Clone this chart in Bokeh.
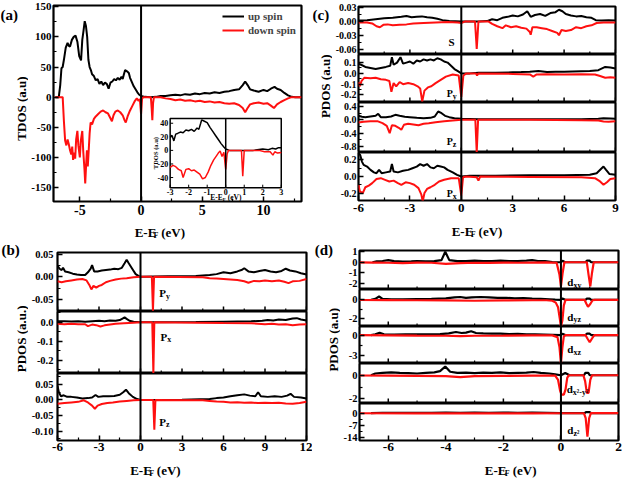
import math
from bokeh.plotting import figure
from bokeh.layouts import column, row
from bokeh.models import (Range1d, FixedTicker, PrintfTickFormatter, Span, Label,
                          Legend, LegendItem)
from bokeh.embed import file_html
from bokeh.resources import INLINE
from bokeh.core.properties import value

FONT = "Liberation Serif"
RED = "#ff1010"

# ================= DATA =================
# (a) total DOS
A_UP = [(-7.0, 0), (-6.72, 0), (-6.6, 20), (-6.5, 48), (-6.4, 50), (-6.3, 62), (-6.15, 82), (-6.0, 90),
        (-5.9, 85), (-5.8, 84), (-5.65, 95), (-5.5, 100), (-5.35, 102), (-5.2, 92), (-5.05, 68), (-4.9, 61),
        (-4.8, 95), (-4.7, 110), (-4.6, 126), (-4.5, 118), (-4.4, 100), (-4.3, 62), (-4.2, 50), (-4.1, 45),
        (-4.0, 38), (-3.85, 35), (-3.7, 28), (-3.55, 30), (-3.4, 22), (-3.25, 26), (-3.1, 20), (-2.95, 24),
        (-2.8, 22), (-2.65, 14), (-2.5, 24), (-2.35, 26), (-2.2, 30), (-2.05, 28), (-1.9, 32), (-1.75, 29),
        (-1.6, 34), (-1.5, 30), (-1.4, 38), (-1.3, 45), (-1.15, 43), (-1.0, 40), (-0.9, 32), (-0.75, 25),
        (-0.6, 18), (-0.45, 13), (-0.3, 8), (-0.15, 4), (0.0, 2), (0.3, 0.5), (0.8, 0), (1.2, 0.5), (1.6, 2),
        (2.0, 2), (2.4, 3), (2.8, 4), (3.2, 3), (3.6, 5), (4.0, 4), (4.4, 6), (4.8, 5), (5.2, 7), (5.6, 6),
        (6.0, 8), (6.4, 7), (6.8, 9), (7.2, 10), (7.6, 12), (8.0, 13), (8.3, 20), (8.5, 26), (8.7, 20),
        (8.9, 13), (9.2, 11), (9.6, 9), (10.0, 12), (10.3, 10), (10.6, 14), (10.9, 17), (11.1, 14),
        (11.4, 12), (11.7, 7), (12.0, 3), (12.3, 0.5), (12.6, 0), (13.1, 0)]
A_DN = [(-7.0, 0), (-6.4, 0), (-6.3, -40), (-6.2, -72), (-6.1, -80), (-6.0, -70), (-5.9, -78), (-5.8, -88),
        (-5.7, -95), (-5.62, -82), (-5.55, -104), (-5.45, -92), (-5.38, -102), (-5.3, -70), (-5.2, -56),
        (-5.12, -80), (-5.0, -100), (-4.92, -72), (-4.8, -56), (-4.72, -90), (-4.62, -120), (-4.56, -143),
        (-4.48, -110), (-4.42, -88), (-4.35, -115), (-4.28, -90), (-4.2, -60), (-4.12, -42), (-4.0, -45),
        (-3.85, -36), (-3.7, -32), (-3.5, -28), (-3.3, -24), (-3.1, -22), (-2.9, -25), (-2.7, -27),
        (-2.5, -35), (-2.38, -40), (-2.25, -30), (-2.1, -24), (-1.9, -22), (-1.7, -25), (-1.5, -30),
        (-1.35, -38), (-1.25, -42), (-1.1, -32), (-0.9, -22), (-0.7, -14), (-0.5, -6), (-0.35, -2),
        (-0.2, -6), (-0.1, -3), (0.0, -28), (0.08, -2), (0.2, 0), (0.8, 0), (0.87, -20), (0.92, -38),
        (0.98, -10), (1.05, 0), (1.6, 0), (2.0, -2), (2.4, -3), (2.8, -5), (3.2, -4), (3.6, -6), (4.0, -5),
        (4.4, -7), (4.8, -6), (5.2, -8), (5.6, -7), (6.0, -9), (6.4, -8), (6.8, -10), (7.2, -11), (7.6, -10),
        (8.0, -13), (8.3, -18), (8.5, -25), (8.7, -18), (8.9, -12), (9.2, -10), (9.6, -9), (10.0, -11),
        (10.3, -10), (10.6, -14), (10.85, -18), (11.1, -12), (11.4, -8), (11.7, -5), (12.0, -2), (12.3, 0),
        (13.1, 0)]
INSET_UP = [(-3.0, 20), (-2.9, 22), (-2.8, 14), (-2.7, 24), (-2.6, 25), (-2.45, 27), (-2.3, 26), (-2.15, 30),
            (-2.0, 29), (-1.85, 31), (-1.7, 28), (-1.55, 33), (-1.45, 31), (-1.35, 40), (-1.3, 45),
            (-1.15, 43), (-1.0, 41), (-0.85, 34), (-0.7, 28), (-0.55, 22), (-0.4, 16), (-0.25, 10),
            (-0.1, 5), (0.0, 2), (0.2, 0), (1.5, 0), (1.7, 1), (2.0, 2), (2.3, 1), (2.5, 3), (2.7, 2),
            (2.85, 4), (3.0, 4)]
INSET_DN = [(-3.0, -25), (-2.85, -22), (-2.7, -24), (-2.55, -28), (-2.4, -30), (-2.3, -40), (-2.15, -28),
            (-2.0, -27), (-1.85, -30), (-1.7, -29), (-1.55, -32), (-1.4, -35), (-1.25, -42), (-1.1, -40),
            (-0.95, -32), (-0.8, -22), (-0.65, -14), (-0.5, -8), (-0.4, -4), (-0.3, -1), (-0.2, -9),
            (-0.1, -3), (0.0, -28), (0.08, -5), (0.15, 0), (0.85, 0), (0.92, -38), (1.0, 0), (1.8, 0),
            (2.1, -2), (2.4, -2), (2.55, -7), (2.65, -2), (2.8, -4), (3.0, -3)]

# (b) PDOS
B_PY_UP = [(-6, 0.025), (-5.85, 0.018), (-5.7, 0.015), (-5.6, 0.02), (-5.45, 0.012), (-5.2, 0.01), (-4.9, 0.007),
           (-4.6, 0.005), (-4.3, 0.004), (-4.0, 0.004), (-3.8, 0.01), (-3.6, 0.018), (-3.5, 0.026),
           (-3.35, 0.012), (-3.1, 0.012), (-2.8, 0.014), (-2.5, 0.015), (-2.2, 0.016), (-1.9, 0.018),
           (-1.6, 0.017), (-1.35, 0.02), (-1.15, 0.03), (-1.0, 0.038), (-0.85, 0.03), (-0.6, 0.018),
           (-0.35, 0.006), (-0.15, 0.002), (0, 0), (2.0, 0.001), (4.0, 0.002), (5.0, 0.004), (5.5, 0.006),
           (6.0, 0.01), (6.5, 0.008), (7.0, 0.012), (7.3, 0.015), (7.5, 0.019), (7.8, 0.012), (8.2, 0.01),
           (8.6, 0.013), (9.0, 0.015), (9.4, 0.012), (9.8, 0.01), (10.2, 0.013), (10.5, 0.018),
           (10.8, 0.014), (11.2, 0.012), (11.6, 0.008), (12.0, 0.005)]
B_PY_DN = [(-6, -0.01), (-5.7, -0.012), (-5.4, -0.01), (-5.0, -0.008), (-4.6, -0.006), (-4.2, -0.005),
           (-3.9, -0.008), (-3.7, -0.018), (-3.55, -0.028), (-3.4, -0.02), (-3.2, -0.024), (-3.0, -0.02),
           (-2.8, -0.018), (-2.5, -0.012), (-2.2, -0.009), (-1.8, -0.006), (-1.4, -0.004), (-1.0, -0.003),
           (-0.5, -0.001), (0, 0), (0.82, 0), (0.9, -0.075), (0.98, 0), (4.5, -0.001), (5.0, -0.003),
           (5.5, -0.004), (6.0, -0.005), (6.5, -0.006), (7.0, -0.007), (7.5, -0.01), (7.8, -0.013),
           (8.2, -0.009), (8.6, -0.01), (9.0, -0.008), (9.5, -0.01), (10.0, -0.008), (10.4, -0.011),
           (10.7, -0.014), (11.0, -0.01), (11.5, -0.009), (12.0, -0.005)]
B_PX_UP = [(-6, 0.005), (-5.5, 0.006), (-5.0, 0.004), (-4.5, 0.005), (-4.0, 0.003), (-3.5, 0.006), (-3.0, 0.008),
           (-2.6, 0.005), (-2.2, 0.009), (-1.8, 0.008), (-1.5, 0.012), (-1.3, 0.02), (-1.15, 0.026),
           (-1.0, 0.018), (-0.8, 0.008), (-0.5, 0.003), (0, 0), (4.0, 0.001), (6.0, 0.003), (8.0, 0.005),
           (8.8, 0.008), (9.2, 0.012), (9.6, 0.01), (10.0, 0.015), (10.5, 0.012), (11.0, 0.02),
           (11.3, 0.022), (11.6, 0.015), (12.0, 0.01)]
B_PX_DN = [(-6, -0.008), (-5.5, -0.01), (-5.0, -0.008), (-4.5, -0.01), (-4.0, -0.01), (-3.8, -0.02),
           (-3.5, -0.012), (-3.2, -0.015), (-2.9, -0.022), (-2.6, -0.016), (-2.2, -0.012), (-1.8, -0.008),
           (-1.2, -0.005), (-0.5, -0.002), (0, 0), (0.85, 0), (0.93, -0.27), (1.0, 0), (4.0, -0.002),
           (6.0, -0.004), (8.0, -0.005), (9.0, -0.01), (9.5, -0.008), (10.0, -0.012), (10.5, -0.01),
           (11.0, -0.015), (11.5, -0.012), (12.0, -0.01)]
B_PZ_UP = [(-6, 0.045), (-5.9, 0.025), (-5.75, 0.012), (-5.55, 0.015), (-5.3, 0.01), (-5.0, 0.01), (-4.6, 0.008),
           (-4.2, 0.005), (-3.8, 0.006), (-3.5, 0.008), (-3.25, 0.016), (-3.05, 0.01), (-2.7, 0.012),
           (-2.3, 0.012), (-1.9, 0.013), (-1.5, 0.017), (-1.25, 0.025), (-1.05, 0.033), (-0.85, 0.022),
           (-0.55, 0.01), (-0.25, 0.003), (0, 0), (3.0, 0.001), (5.0, 0.003), (5.5, 0.006), (6.0, 0.008),
           (6.5, 0.012), (7.0, 0.015), (7.5, 0.018), (7.9, 0.014), (8.3, 0.012), (8.5, 0.025), (8.7, 0.012),
           (9.2, 0.01), (9.7, 0.012), (10.2, 0.01), (10.6, 0.014), (10.85, 0.02), (11.1, 0.01),
           (11.6, 0.008), (12.0, 0.005)]
B_PZ_DN = [(-6, -0.012), (-5.5, -0.01), (-5.0, -0.008), (-4.5, -0.006), (-4.1, -0.001), (-3.8, -0.008),
           (-3.5, -0.018), (-3.3, -0.028), (-3.1, -0.018), (-2.8, -0.013), (-2.4, -0.01), (-2.0, -0.008),
           (-1.5, -0.005), (-1.0, -0.003), (-0.5, -0.001), (0, 0), (0.92, 0), (1.0, -0.095), (1.08, 0),
           (4.5, -0.001), (5.0, -0.003), (5.5, -0.005), (6.0, -0.006), (6.5, -0.008), (7.0, -0.007),
           (7.5, -0.009), (8.0, -0.008), (8.5, -0.01), (9.0, -0.009), (9.5, -0.01), (10.0, -0.009),
           (10.5, -0.011), (11.0, -0.012), (11.5, -0.01), (12.0, -0.006)]

# (c) PDOS
C_S_UP = [(-6, 0.002), (-5.5, 0.003), (-5, 0.005), (-4.5, 0.007), (-4, 0.008), (-3.5, 0.01), (-3.2, 0.012),
          (-2.9, 0.009), (-2.6, 0.01), (-2.3, 0.011), (-2, 0.009), (-1.7, 0.008), (-1.4, 0.006), (-1.1, 0.003),
          (-0.7, 0.001), (0, 0), (1.0, 0), (1.5, 0.001), (1.8, 0.005), (2.1, 0.003), (2.4, 0.008), (2.7, 0.01),
          (3.0, 0.013), (3.3, 0.011), (3.6, 0.015), (3.85, 0.022), (4.05, 0.01), (4.3, 0.014), (4.6, 0.016),
          (4.9, 0.012), (5.2, 0.018), (5.5, 0.02), (5.7, 0.025), (5.9, 0.022), (6.1, 0.016), (6.4, 0.013),
          (6.7, 0.011), (7.0, 0.012), (7.3, 0.009), (7.6, 0.008), (7.85, 0.003), (8.2, 0.002), (8.6, 0.003),
          (9, 0.002)]
C_S_DN = [(-6, -0.002), (-5.5, -0.002), (-5.2, -0.004), (-4.95, -0.01), (-4.75, -0.012), (-4.55, -0.007),
          (-4.3, -0.006), (-4, -0.008), (-3.6, -0.007), (-3.2, -0.006), (-2.8, -0.004), (-2.2, -0.003),
          (-1.5, -0.002), (-0.8, -0.001), (-0.2, -0.002), (0, -0.003), (0.2, 0), (0.8, 0), (0.87, -0.04),
          (0.9, -0.058), (0.95, -0.03), (1.0, 0), (1.6, 0), (1.8, -0.005), (2.1, -0.01), (2.4, -0.014),
          (2.6, -0.008), (2.9, -0.012), (3.2, -0.01), (3.5, -0.013), (3.8, -0.015), (4.0, -0.022),
          (4.05, -0.028), (4.15, -0.012), (4.4, -0.012), (4.7, -0.014), (5.0, -0.016), (5.3, -0.02),
          (5.6, -0.024), (5.7, -0.029), (5.85, -0.018), (6.1, -0.02), (6.4, -0.018), (6.7, -0.012),
          (7.0, -0.014), (7.3, -0.01), (7.6, -0.008), (7.9, -0.003), (8.3, -0.002), (9, -0.002)]
C_PY_UP = [(-6, 0.09), (-5.85, 0.08), (-5.6, 0.06), (-5.3, 0.05), (-5.0, 0.04), (-4.7, 0.05), (-4.4, 0.06),
           (-4.15, 0.07), (-4.05, 0.15), (-3.95, 0.08), (-3.75, 0.1), (-3.55, 0.15), (-3.4, 0.09), (-3.2, 0.1),
           (-3.0, 0.11), (-2.8, 0.09), (-2.6, 0.12), (-2.4, 0.11), (-2.2, 0.13), (-2.0, 0.12), (-1.8, 0.13),
           (-1.6, 0.12), (-1.4, 0.14), (-1.2, 0.13), (-1.0, 0.11), (-0.8, 0.1), (-0.6, 0.07), (-0.4, 0.04),
           (-0.2, 0.02), (0, 0.0), (0.5, 0.0), (1.0, 0.005), (2.0, 0.005), (3.0, 0.01), (3.5, 0.012),
           (4.0, 0.015), (4.5, 0.022), (5.0, 0.012), (5.5, 0.015), (6.0, 0.016), (6.5, 0.018), (7.0, 0.02),
           (7.5, 0.022), (8.0, 0.03), (8.4, 0.06), (8.7, 0.055), (9.0, 0.045)]
C_PY_DN = [(-6, -0.08), (-5.92, -0.12), (-5.82, -0.07), (-5.65, -0.04), (-5.3, -0.045), (-5.0, -0.04),
           (-4.7, -0.055), (-4.4, -0.06), (-4.2, -0.07), (-4.08, -0.17), (-3.95, -0.09), (-3.8, -0.12),
           (-3.6, -0.08), (-3.4, -0.1), (-3.1, -0.09), (-2.8, -0.1), (-2.55, -0.12), (-2.4, -0.14),
           (-2.28, -0.26), (-2.15, -0.16), (-1.95, -0.13), (-1.75, -0.12), (-1.5, -0.09), (-1.2, -0.06),
           (-0.9, -0.03), (-0.5, -0.01), (-0.15, -0.02), (0.0, -0.22), (0.12, -0.02), (0.3, 0.0), (0.85, 0.0),
           (0.92, -0.02), (1.0, 0.0), (3.0, -0.005), (4.0, -0.01), (4.2, -0.03), (4.4, -0.01), (5.0, -0.008),
           (6.0, -0.01), (7.0, -0.008), (7.8, -0.01), (8.1, -0.025), (8.4, -0.04), (8.7, -0.035), (9.0, -0.04)]
C_PZ_UP = [(-6, 0.12), (-5.8, 0.09), (-5.6, 0.08), (-5.3, 0.1), (-5.0, 0.12), (-4.85, 0.18), (-4.7, 0.08),
           (-4.4, 0.08), (-4.1, 0.1), (-3.85, 0.15), (-3.6, 0.12), (-3.3, 0.09), (-3.0, 0.08), (-2.6, 0.06),
           (-2.2, 0.05), (-1.8, 0.06), (-1.55, 0.1), (-1.35, 0.25), (-1.15, 0.2), (-0.95, 0.12), (-0.7, 0.08),
           (-0.4, 0.05), (0.0, 0.03), (1.0, 0.02), (3.0, 0.02), (5.0, 0.02), (7.0, 0.02), (8.0, 0.03),
           (8.3, 0.05), (8.7, 0.04), (9.0, 0.03)]
C_PZ_DN = [(-6, -0.08), (-5.7, -0.06), (-5.3, -0.04), (-4.9, -0.04), (-4.6, -0.1), (-4.35, -0.18), (-4.18, -0.4),
           (-4.05, -0.16), (-3.85, -0.18), (-3.65, -0.24), (-3.5, -0.3), (-3.35, -0.15), (-3.1, -0.12),
           (-2.8, -0.14), (-2.5, -0.16), (-2.2, -0.12), (-1.9, -0.1), (-1.5, -0.07), (-1.0, -0.04),
           (-0.5, -0.02), (0.0, 0.0), (0.82, 0.0), (0.9, -0.98), (0.98, 0.0), (4.0, 0.0), (7.0, -0.01),
           (8.0, -0.02), (8.3, -0.05), (8.6, -0.06), (9.0, -0.04)]
C_PX_UP = [(-6, 0.28), (-5.9, 0.26), (-5.8, 0.18), (-5.7, 0.14), (-5.5, 0.12), (-5.3, 0.08), (-5.1, 0.05),
           (-4.95, 0.04), (-4.8, 0.08), (-4.65, 0.04), (-4.4, 0.05), (-4.15, 0.06), (-4.05, 0.15), (-3.95, 0.06),
           (-3.7, 0.05), (-3.4, 0.07), (-3.1, 0.08), (-2.85, 0.1), (-2.6, 0.12), (-2.4, 0.15), (-2.2, 0.13),
           (-2.0, 0.15), (-1.8, 0.11), (-1.6, 0.1), (-1.4, 0.13), (-1.2, 0.12), (-1.0, 0.11), (-0.8, 0.08),
           (-0.5, 0.05), (-0.25, 0.02), (0.0, 0.0), (0.5, 0.01), (2.0, 0.01), (4.0, 0.015), (6.0, 0.015),
           (7.5, 0.02), (7.9, 0.04), (8.15, 0.09), (8.3, 0.12), (8.45, 0.08), (8.65, 0.03), (9.0, 0.02)]
C_PX_DN = [(-6, -0.1), (-5.92, -0.18), (-5.75, -0.2), (-5.6, -0.13), (-5.4, -0.11), (-5.2, -0.08), (-4.95, -0.03),
           (-4.7, -0.02), (-4.45, -0.04), (-4.2, -0.06), (-3.95, -0.05), (-3.7, -0.08), (-3.5, -0.1),
           (-3.25, -0.07), (-3.0, -0.08), (-2.75, -0.1), (-2.5, -0.14), (-2.33, -0.22), (-2.25, -0.3),
           (-2.15, -0.2), (-2.0, -0.15), (-1.8, -0.13), (-1.55, -0.1), (-1.3, -0.06), (-1.0, -0.04),
           (-0.6, -0.02), (-0.15, -0.02), (0.0, -0.23), (0.1, -0.01), (0.3, 0.0), (0.9, -0.01), (1.0, -0.05),
           (1.1, 0.0), (4.0, -0.005), (7.0, -0.01), (7.8, -0.02), (8.1, -0.06), (8.3, -0.1), (8.5, -0.07),
           (8.7, -0.03), (9.0, -0.02)]

# (d) PDOS of d orbitals
D_XY_UP = [(-6.55, 0.0), (-6.4, 0.08), (-6.2, 0.12), (-6.0, 0.2), (-5.8, 0.1), (-5.5, 0.06), (-5.2, 0.08),
           (-5.0, 0.1), (-4.7, 0.08), (-4.4, 0.1), (-4.15, 0.2), (-4.02, 1.0), (-3.88, 0.2), (-3.6, 0.1),
           (-3.3, 0.12), (-3.0, 0.15), (-2.7, 0.1), (-2.4, 0.12), (-2.1, 0.15), (-1.8, 0.1), (-1.5, 0.12),
           (-1.2, 0.15), (-1.0, 0.2), (-0.8, 0.12), (-0.55, 0.1), (-0.3, 0.02), (0, 0), (0.05, 0.15),
           (0.15, 0.0), (0.85, 0.0), (0.9, 0.15), (1.0, 0.15), (1.05, 0), (2.0, 0.0)]
D_XY_DN = [(-7.0, -0.02), (-6.5, -0.03), (-6.0, -0.05), (-5.5, -0.08), (-5.0, -0.04), (-4.5, -0.05), (-4.0, -0.15),
           (-3.5, -0.08), (-3.0, -0.05), (-2.5, -0.06), (-2.0, -0.04), (-1.5, -0.05), (-1.0, -0.03),
           (-0.5, -0.02), (-0.15, -0.05), (-0.05, -1.2), (0.0, -2.3), (0.06, -1.0), (0.12, 0.0), (0.9, 0.0),
           (0.96, -1.2), (1.02, -2.3), (1.08, -1.0), (1.14, 0.0), (2.0, 0.0)]
D_YZ_UP = [(-6.6, 0.0), (-6.45, 0.1), (-6.32, 0.35), (-6.2, 0.1), (-5.9, 0.05), (-5.5, 0.06), (-5.0, 0.08),
           (-4.5, 0.1), (-4.0, 0.15), (-3.7, 0.25), (-3.5, 0.3), (-3.3, 0.2), (-3.1, 0.25), (-2.8, 0.3),
           (-2.5, 0.25), (-2.2, 0.2), (-1.9, 0.22), (-1.6, 0.15), (-1.3, 0.18), (-1.0, 0.12), (-0.7, 0.1),
           (-0.4, 0.06), (-0.2, 0.02), (0.0, 0.0), (0.05, 0.15), (0.15, 0.0), (0.85, 0.0), (0.9, 0.12),
           (1.0, 0.12), (1.05, 0.0), (2.0, 0.0)]
D_YZ_DN = [(-7.0, -0.02), (-6.0, -0.04), (-5.0, -0.05), (-4.0, -0.06), (-3.0, -0.1), (-2.0, -0.06), (-1.0, -0.05),
           (-0.5, -0.05), (-0.3, -0.1), (-0.18, -0.3), (-0.1, -0.8), (-0.04, -2.0), (0.0, -2.85), (0.05, -2.2),
           (0.1, -0.6), (0.16, 0.0), (0.82, 0.0), (0.88, -0.4), (0.94, -0.75), (1.02, -0.45), (1.1, -0.05),
           (1.18, 0.0), (2.0, 0.0)]
D_XZ_UP = [(-6.6, 0.0), (-6.45, 0.1), (-6.3, 0.35), (-6.15, 0.12), (-5.8, 0.08), (-5.4, 0.1), (-5.0, 0.1),
           (-4.6, 0.12), (-4.2, 0.15), (-3.9, 0.25), (-3.65, 0.45), (-3.45, 0.3), (-3.3, 0.35), (-3.12, 0.55),
           (-2.95, 0.3), (-2.7, 0.25), (-2.4, 0.2), (-2.1, 0.22), (-1.8, 0.15), (-1.5, 0.18), (-1.2, 0.12),
           (-0.9, 0.1), (-0.6, 0.08), (-0.3, 0.04), (0.0, 0.0), (0.05, 0.2), (0.15, 0.0), (0.85, 0.0),
           (0.9, 0.2), (1.0, 0.2), (1.05, 0.0), (2.0, 0.0)]
D_XZ_DN = [(-7.0, -0.02), (-6.0, -0.05), (-5.0, -0.08), (-4.0, -0.1), (-3.5, -0.15), (-3.0, -0.1), (-2.0, -0.08),
           (-1.0, -0.05), (-0.3, -0.05), (-0.12, -0.3), (-0.05, -1.8), (0.0, -4.1), (0.05, -1.8), (0.1, -0.2),
           (0.16, 0.0), (0.85, 0.0), (0.92, -0.5), (1.0, -1.05), (1.08, -0.5), (1.16, 0.0), (2.0, 0.0)]
D_X2_UP = [(-6.6, 0.0), (-6.45, 0.15), (-6.2, 0.2), (-5.9, 0.25), (-5.6, 0.2), (-5.3, 0.18), (-5.0, 0.15),
           (-4.7, 0.2), (-4.4, 0.25), (-4.2, 0.35), (-4.02, 0.75), (-3.85, 0.3), (-3.6, 0.2), (-3.3, 0.22),
           (-3.0, 0.18), (-2.7, 0.22), (-2.4, 0.2), (-2.1, 0.25), (-1.8, 0.18), (-1.5, 0.2), (-1.2, 0.22),
           (-0.95, 0.28), (-0.7, 0.2), (-0.4, 0.15), (-0.2, 0.08), (0.0, 0.0), (0.15, 0.2), (0.3, 0.0),
           (0.8, 0.0), (0.85, 0.2), (0.95, 0.2), (1.0, 0.0), (2.0, 0.0)]
D_X2_DN = [(-7.0, -0.02), (-6.0, -0.03), (-5.0, -0.05), (-4.0, -0.08), (-3.5, -0.15), (-3.0, -0.08), (-2.0, -0.05),
           (-1.0, -0.03), (-0.2, -0.03), (-0.1, -0.4), (-0.03, -1.3), (0.02, -1.65), (0.1, -1.65), (0.16, -1.2),
           (0.22, -0.2), (0.28, 0.0), (0.78, 0.0), (0.84, -0.5), (0.9, -1.5), (0.96, -1.5), (1.02, -0.4),
           (1.08, 0.0), (2.0, 0.0)]
D_Z2_UP = [(-6.6, 0.0), (-6.2, 0.2), (-5.8, 0.15), (-5.0, 0.2), (-4.5, 0.2), (-4.0, 0.35), (-3.5, 0.2),
           (-3.0, 0.25), (-2.5, 0.2), (-2.0, 0.25), (-1.5, 0.2), (-1.0, 0.3), (-0.5, 0.15), (0.0, 0.0),
           (0.82, 0.0), (0.87, 0.6), (1.0, 0.6), (1.05, 0.0), (2.0, 0.0)]
D_Z2_DN = [(-7.0, -0.1), (-5.0, -0.15), (-3.0, -0.2), (-1.0, -0.15), (0.0, -0.1), (0.8, -0.1), (0.86, -3.0),
           (0.92, -13.8), (0.98, -3.0), (1.04, 0.0), (2.0, 0.0)]

# tick values / labels
A_XTICKS = [-5, 0, 5, 10]
A_YTICKS = [-150, -100, -50, 0, 50, 100, 150]
INSET_XTICKS = [-3, -2, -1, 0, 1, 2, 3]
INSET_YTICKS = [-40, -20, 0, 20, 40]
B_XTICKS = [-6, -3, 0, 3, 6, 9, 12]
C_XTICKS = [-6, -3, 0, 3, 6, 9]
D_XTICKS = [-6, -4, -2, 0, 2]
LEGEND_LABELS = ["up spin", "down spin"]


# ================= helpers =================
def xy(pts):
    return [p[0] for p in pts], [p[1] for p in pts]


def make_panel(w, h, xr, yr, bl, br, bt, bb):
    p = figure(width=w, height=h, x_range=Range1d(*xr), y_range=Range1d(*yr),
               output_backend="svg", toolbar_location=None,
               min_border_left=bl, min_border_right=br, min_border_top=bt, min_border_bottom=bb)
    p.outline_line_color = "black"
    p.outline_line_width = 2.2
    p.xgrid.visible = False
    p.ygrid.visible = False
    p.background_fill_color = "white"
    p.border_fill_color = "white"
    return p


def blank(w, h):
    p = figure(width=w, height=h, x_range=Range1d(0, w), y_range=Range1d(h, 0),
               x_axis_type=None, y_axis_type=None, output_backend="svg",
               toolbar_location=None, min_border=0)
    p.outline_line_color = None
    p.xgrid.visible = False
    p.ygrid.visible = False
    return p


def style_axis(ax, ticks, minor, fmt, size, standoff):
    ax.ticker = FixedTicker(ticks=ticks, minor_ticks=minor)
    ax.formatter = PrintfTickFormatter(format=fmt)
    ax.major_tick_in = 5
    ax.major_tick_out = 0
    ax.minor_tick_in = 3
    ax.minor_tick_out = 0
    ax.major_tick_line_width = 1.5
    ax.minor_tick_line_width = 1.2
    ax.major_tick_line_color = "black"
    ax.minor_tick_line_color = "black"
    ax.axis_line_color = None
    ax.major_label_text_font = FONT
    ax.major_label_text_font_style = "bold"
    ax.major_label_text_color = "black"
    ax.major_label_text_font_size = f"{size}px"
    ax.major_label_standoff = standoff


def inner_x_ticks(p, ticks, minor):
    # sub-panels without tick labels: draw the inward bottom ticks only
    p.xaxis.visible = False
    y0 = p.y_range.start
    p.ray(x=ticks, y=[y0] * len(ticks), length=5, length_units="screen", angle=math.pi / 2,
          line_color="black", line_width=1.5)
    p.ray(x=minor, y=[y0] * len(minor), length=3, length_units="screen", angle=math.pi / 2,
          line_color="black", line_width=1.2)


def curves(p, up, dn, lw=2.0):
    ux, uy = xy(up)
    dx, dy = xy(dn)
    r1 = p.line(ux, uy, line_color="black", line_width=lw)
    r2 = p.line(dx, dy, line_color=RED, line_width=lw)
    p.add_layout(Span(location=0, dimension="height", line_color="black", line_width=2))
    return r1, r2


def lab(p, x, y, text, size, angle=0.0, align="left", baseline="middle", xo=0, yo=0):
    p.add_layout(Label(x=x, y=y, text=text, angle=angle, x_offset=xo, y_offset=yo,
                       text_font=FONT, text_font_style="bold", text_font_size=f"{size}px",
                       text_color="black", text_align=align, text_baseline=baseline))


def sub_label(p, x, y, main, sub, size=11, ssize=8, mw=0.61):
    lab(p, x, y, main, size, baseline="alphabetic")
    if sub:
        lab(p, x, y, sub, ssize, baseline="alphabetic", xo=mw * size, yo=-3)


def xtitle(p, cx, cy, s=13):
    # p is a blank figure whose data units are pixels, y downward
    w1 = 1.667 * s
    ws = 0.42 * s
    w3 = 1.83 * s
    x0 = cx - (w1 + ws + 0.25 * s + w3) / 2
    base = cy + 0.33 * s
    lab(p, x0, base, "E-E", s, baseline="alphabetic")
    lab(p, x0 + w1, base + 0.22 * s, "F", round(0.65 * s), baseline="alphabetic")
    lab(p, x0 + w1 + ws + 0.25 * s, base, "(eV)", s, baseline="alphabetic")


# ================= panel (a) =================
A_XR = (-7.15, 13.1)
A_YR = (-173, 152)
pa = make_panel(284, 220, A_XR, A_YR, 23, 11, 5, 19)
style_axis(pa.xaxis[0], A_XTICKS, [-2.5, 2.5, 7.5, 12.5], "%d", 14, 3)
style_axis(pa.yaxis[0], A_YTICKS, [-125, -75, -25, 25, 75, 125], "%d", 11, 2)
r_up, r_dn = curves(pa, A_UP, A_DN, lw=2.0)
leg = Legend(items=[LegendItem(label=LEGEND_LABELS[0], renderers=[r_up]),
                    LegendItem(label=LEGEND_LABELS[1], renderers=[r_dn])],
             location="top_right")
leg.border_line_color = None
leg.background_fill_alpha = 0
leg.label_text_font = FONT
leg.label_text_font_style = "bold"
leg.label_text_font_size = "11px"
leg.glyph_width = 22
leg.glyph_height = 12
leg.label_height = 12
leg.spacing = 2
leg.padding = 2
leg.margin = 5
leg.label_standoff = 4
pa.add_layout(leg)

# inset (placed in frame pixels, with its own ranges)
FW, FH = 250, 196
IN_L, IN_R, IN_T, IN_B = 117.6, 229.6, 113.0, 182.2
INS_X = (-3, 3)
INS_Y = (-55, 47)
ux_ = (INS_X[1] - INS_X[0]) / (IN_R - IN_L)
uy_ = (INS_Y[1] - INS_Y[0]) / (IN_B - IN_T)
pa.extra_x_ranges = {"ix": Range1d(INS_X[0] - IN_L * ux_, INS_X[0] + (FW - IN_L) * ux_)}
pa.extra_y_ranges = {"iy": Range1d(INS_Y[0] - (FH - IN_B) * uy_, INS_Y[0] + IN_B * uy_)}
IK = dict(x_range_name="ix", y_range_name="iy")
pa.quad(left=[INS_X[0]], right=[INS_X[1]], bottom=[INS_Y[0]], top=[INS_Y[1]],
        fill_color="white", line_color="black", line_width=1.5, **IK)
ix_, iy_ = xy(INSET_UP)
pa.line(ix_, iy_, line_color="black", line_width=1.5, **IK)
ix_, iy_ = xy(INSET_DN)
pa.line(ix_, iy_, line_color=RED, line_width=1.5, **IK)
pa.segment(x0=[0], y0=[INS_Y[0]], x1=[0], y1=[INS_Y[1]], line_color="black", line_width=1.5, **IK)
pa.ray(x=INSET_XTICKS, y=[INS_Y[0]] * len(INSET_XTICKS), length=3, length_units="screen",
       angle=math.pi / 2, line_color="black", line_width=1, **IK)
pa.ray(x=[INS_X[0]] * len(INSET_YTICKS), y=INSET_YTICKS, length=3, length_units="screen",
       angle=0, line_color="black", line_width=1, **IK)
pa.text(x=INSET_XTICKS, y=[INS_Y[0]] * len(INSET_XTICKS), text=[str(v) for v in INSET_XTICKS],
        text_font=value(FONT), text_font_style="bold", text_font_size="8px", text_align="center",
        text_baseline="top", y_offset=1, **IK)
pa.text(x=[INS_X[0]] * len(INSET_YTICKS), y=INSET_YTICKS, text=[str(v) for v in INSET_YTICKS],
        text_font=value(FONT), text_font_style="bold", text_font_size="8px", text_align="right",
        text_baseline="middle", x_offset=-2, **IK)
pa.text(x=[INS_X[0]], y=[(INS_Y[0] + INS_Y[1]) / 2], text=["TDOS (a.u)"], angle=math.pi / 2,
        text_font=value(FONT), text_font_style="bold", text_font_size="6.5px", text_align="center",
        text_baseline="middle", x_offset=-15, **IK)
pa.text(x=[0], y=[INS_Y[0]], text=["E-E"], text_font=value(FONT), text_font_style="bold",
        text_font_size="7.5px", text_align="right", text_baseline="middle", y_offset=10, x_offset=-3, **IK)
pa.text(x=[0], y=[INS_Y[0]], text=["F"], text_font=value(FONT), text_font_style="bold",
        text_font_size="5px", text_align="left", text_baseline="middle", y_offset=12, x_offset=-3, **IK)
pa.text(x=[0], y=[INS_Y[0]], text=["(eV)"], text_font=value(FONT), text_font_style="bold",
        text_font_size="7.5px", text_align="left", text_baseline="middle", y_offset=10, x_offset=2, **IK)

yta = blank(28, 241)
lab(yta, 0, 14.6, "(a)", 15)
lab(yta, 21, 108, "TDOS (a.u)", 13, angle=math.pi / 2, align="center")
xta = blank(284, 21)
xtitle(xta, 120, 8, 13)

# ================= panel (b) =================
BW = 284
b1 = make_panel(BW, 70, (-6, 12), (-0.077, 0.054), 28, 6, 11, 0)
b2 = make_panel(BW, 62, (-6, 12), (-0.27, 0.057), 28, 6, 0, 0)
b3 = make_panel(BW, 84, (-6, 12), (-0.13, 0.085), 28, 6, 0, 17)
B_XMIN = [-4.5, -1.5, 1.5, 4.5, 7.5, 10.5]
inner_x_ticks(b1, B_XTICKS, B_XMIN)
inner_x_ticks(b2, B_XTICKS, B_XMIN)
style_axis(b3.xaxis[0], B_XTICKS, B_XMIN, "%d", 13, 2)
style_axis(b1.yaxis[0], [0.05, 0.0, -0.05], [0.025, -0.025, -0.075], "%.2f", 10.5, 4)
style_axis(b2.yaxis[0], [0.0, -0.1, -0.2], [0.05, -0.05, -0.15, -0.25], "%.1f", 10.5, 4)
style_axis(b3.yaxis[0], [0.05, 0.0, -0.05, -0.10], [0.075, 0.025, -0.025, -0.075, -0.125], "%.2f", 10.5, 4)
curves(b1, B_PY_UP, B_PY_DN)
curves(b2, B_PX_UP, B_PX_DN)
curves(b3, B_PZ_UP, B_PZ_DN)
sub_label(b1, 1.35, -0.036, "P", "y")
sub_label(b2, 1.45, -0.075, "P", "x")
sub_label(b3, 1.35, -0.07, "P", "z")
xtb = blank(BW, 21)
xtitle(xtb, 110, 9, 13)
ytb = blank(28, 237)
lab(ytb, 1, 8, "(b)", 15)
lab(ytb, 21, 97.3, "PDOS (a.u.)", 13, angle=math.pi / 2, align="center")

# ================= panel (c) =================
CW = 290
c1 = make_panel(CW, 54, (-6, 9), (-0.07, 0.032), 24, 7, 6, 0)
c2 = make_panel(CW, 48, (-6, 9), (-0.27, 0.175), 24, 7, 0, 0)
c3 = make_panel(CW, 50, (-6, 9), (-0.98, 0.52), 24, 7, 0, 0)
c4 = make_panel(CW, 66, (-6, 9), (-0.29, 0.29), 24, 7, 0, 18)
C_XMIN = [-4.5, -1.5, 1.5, 4.5, 7.5]
for p_ in (c1, c2, c3):
    inner_x_ticks(p_, C_XTICKS, C_XMIN)
style_axis(c4.xaxis[0], C_XTICKS, C_XMIN, "%d", 13, 3)
style_axis(c1.yaxis[0], [0.03, 0.0, -0.03, -0.06], [0.015, -0.015, -0.045], "%.2f", 10, 2)
style_axis(c2.yaxis[0], [0.1, 0.0, -0.1, -0.2], [0.05, -0.05, -0.15], "%.1f", 10, 2)
style_axis(c3.yaxis[0], [0.4, 0.0, -0.4, -0.8], [0.2, -0.2, -0.6], "%.1f", 10, 2)
style_axis(c4.yaxis[0], [0.2, 0.0, -0.2], [0.1, -0.1], "%.1f", 10, 2)
curves(c1, C_S_UP, C_S_DN)
curves(c2, C_PY_UP, C_PY_DN)
curves(c3, C_PZ_UP, C_PZ_DN)
curves(c4, C_PX_UP, C_PX_DN)
sub_label(c1, -0.75, -0.043, "S", None)
sub_label(c2, -0.85, -0.19, "P", "y", size=10, ssize=8)
sub_label(c3, -0.85, -0.65, "P", "z", size=10, ssize=8)
sub_label(c4, -0.85, -0.2, "P", "x", size=10, ssize=8)
xtc = blank(CW, 24)
xtitle(xtc, 132.2, 9, 13)
ytc = blank(20, 242)
lab(ytc, 0, 14.6, "(c)", 15)
lab(ytc, 13, 85.8, "PDOS (a.u)", 13, angle=math.pi / 2, align="center")

# ================= panel (d) =================
DW = 282
d1 = make_panel(DW, 47, (-7, 2), (-2.6, 1.12), 18, 4, 8, 0)
d2 = make_panel(DW, 37, (-7, 2), (-2.85, 1.1), 18, 4, 0, 0)
d3 = make_panel(DW, 37, (-7, 2), (-4.15, 1.25), 18, 4, 0, 0)
d4 = make_panel(DW, 40, (-7, 2), (-2.4, 1.0), 18, 4, 0, 0)
d5 = make_panel(DW, 54, (-7, 2), (-16, 5.6), 18, 4, 0, 17)
D_XMIN = [-5, -3, -1, 1]
for p_ in (d1, d2, d3, d4):
    inner_x_ticks(p_, D_XTICKS, D_XMIN)
style_axis(d5.xaxis[0], D_XTICKS, D_XMIN, "%d", 13.5, 2)
style_axis(d1.yaxis[0], [1, 0, -1, -2], [], "%d", 10.5, 2)
style_axis(d2.yaxis[0], [0, -2], [-1], "%d", 10.5, 2)
style_axis(d3.yaxis[0], [0, -3], [-1.5], "%d", 10.5, 2)
style_axis(d4.yaxis[0], [0, -2], [-1], "%d", 10.5, 2)
style_axis(d5.yaxis[0], [0, -7, -14], [-3.5, -10.5], "%d", 10.5, 2)
curves(d1, D_XY_UP, D_XY_DN, lw=2.2)
curves(d2, D_YZ_UP, D_YZ_DN, lw=2.2)
curves(d3, D_XZ_UP, D_XZ_DN, lw=2.2)
curves(d4, D_X2_UP, D_X2_DN, lw=2.2)
curves(d5, D_Z2_UP, D_Z2_DN, lw=2.2)
sub_label(d1, 0.22, -1.9, "d", "xy", mw=0.56)
sub_label(d2, 0.22, -1.8, "d", "yz", mw=0.56)
sub_label(d3, 0.22, -2.1, "d", "xz", mw=0.56)
sub_label(d4, 0.2, -1.2, "d", "x²-y²", mw=0.56)
sub_label(d5, 0.22, -10.0, "d", "z²", mw=0.56)
xtd = blank(DW, 21)
xtitle(xtd, 163.5, 9, 13)
ytd = blank(28, 236)
lab(ytd, 2.2, 7.6, "(d)", 15)
lab(ytd, 21, 97.3, "PDOS (a.u)", 13, angle=math.pi / 2, align="center")

# ================= layout =================
left = column(row(yta, column(pa, xta)), row(ytb, column(b1, b2, b3, xtb)))
right = column(row(ytc, column(c1, c2, c3, c4, xtc)), row(ytd, column(d1, d2, d3, d4, d5, xtd)))
root = row(left, right)

open("out.html", "w").write(file_html(root, INLINE, "DOS"))
